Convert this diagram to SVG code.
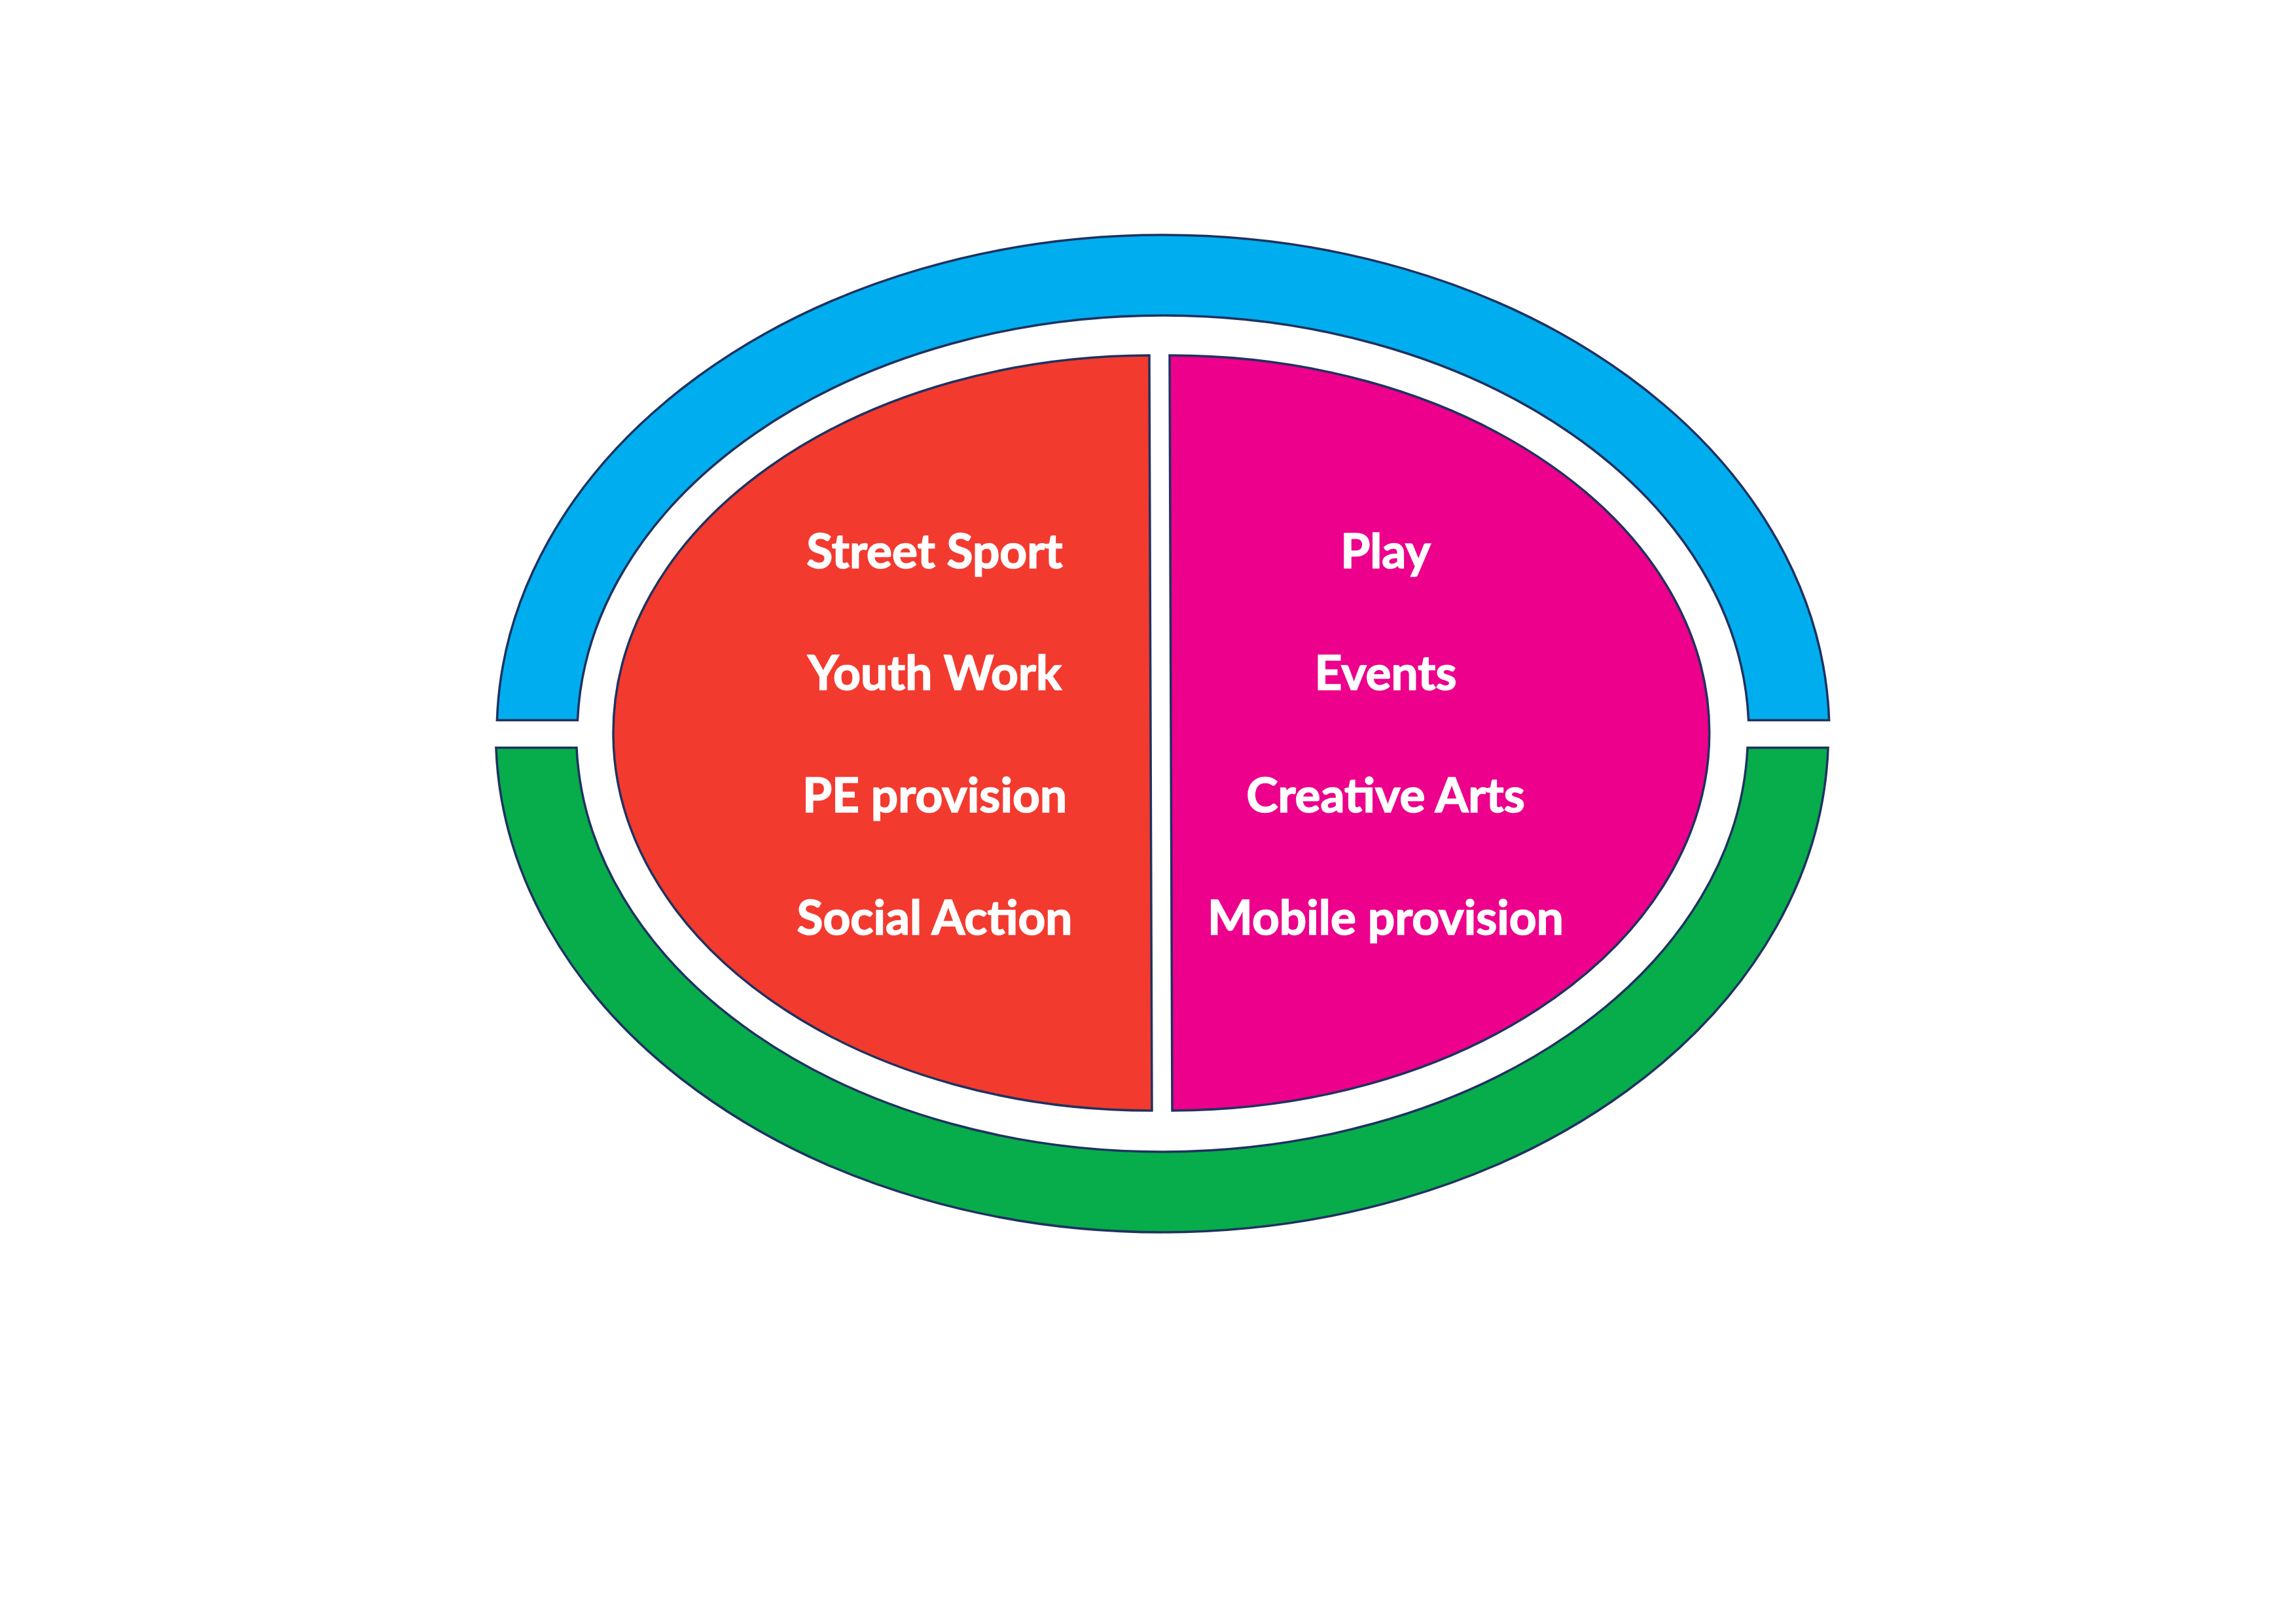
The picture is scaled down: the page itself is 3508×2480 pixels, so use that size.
<svg xmlns="http://www.w3.org/2000/svg" width="3508" height="2480" viewBox="0 0 3508 2480">
  <style>
    .shape { stroke: #1F3260; stroke-width: 3.5; stroke-linejoin: miter; }
    .label { font-family: Lato, "Liberation Sans", Arial, sans-serif; font-weight: bold; font-size: 73px; fill: #FFFFFF; stroke: #FFFFFF; stroke-width: 1.6; text-anchor: middle; }
  </style>
  <rect x="0" y="0" width="3508" height="2480" fill="#FFFFFF"/>
  <g id="outer-top-arc">
    <path class="shape" fill="#00AEEF" d="M 759.37,1100.5 A 1018 762 0 0 1 2794.63,1100.5 L 2671.54,1100.5 A 895 639 0 0 0 882.46,1100.5 Z"/>
  </g>
  <g id="outer-bottom-arc">
    <path class="shape" fill="#07AC4B" d="M 757.91,1142.5 A 1018 762 0 0 0 2793.09,1142.5 L 2669.99,1142.5 A 895 639 0 0 1 881.01,1142.5 Z"/>
  </g>
  <g id="left-half">
    <path class="shape" fill="#F33A2F" d="M 1756,543 A 821 577 0 0 0 1760,1697 Z"/>
    <text class="label" x="1428" y="868">Street Sport</text>
    <text class="label" x="1428" y="1054">Youth Work</text>
    <text class="label" x="1428" y="1241">PE provision</text>
    <text class="label" x="1428" y="1428">Social Action</text>
  </g>
  <g id="right-half">
    <path class="shape" fill="#EC008C" d="M 1787,543 A 823 577 0 0 1 1791,1697 Z"/>
    <text class="label" x="2117" y="868">Play</text>
    <text class="label" x="2117" y="1054">Events</text>
    <text class="label" x="2117" y="1241">Creative Arts</text>
    <text class="label" x="2117" y="1428">Mobile provision</text>
  </g>
  <g id="connectors"></g>
</svg>
